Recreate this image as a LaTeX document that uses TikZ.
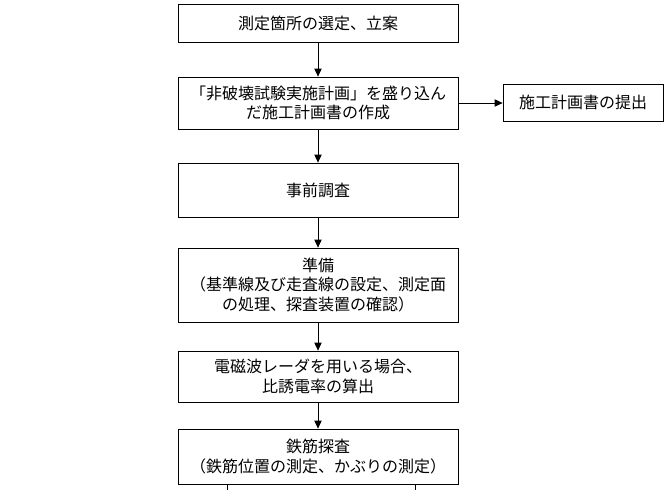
\documentclass[tikz,border=0pt]{standalone}
\usepackage{fontspec}
\setmainfont{Noto Sans CJK JP}
\usetikzlibrary{arrows.meta}
\begin{document}
\begin{tikzpicture}[x=0.75pt,y=-0.75pt,
  box/.style={draw, line width=0.6pt, rectangle, minimum width=210pt, align=center, inner sep=0pt,
    font=\fontsize{12pt}{14.8pt}\selectfont},
  flow/.style={line width=0.6pt, -{Triangle[length=6pt,width=5.5pt]}},
  plain/.style={line width=0.6pt}]
\useasboundingbox (0,0) rectangle (668,490);
\node[box, minimum height=28.5pt] (b1) at (318,23) {測定箇所の選定、立案};
\node[box, minimum height=39pt] (b2) at (318,103) {「非破壊試験実施計画」を盛り込ん\\だ施工計画書の作成};
\node[box, minimum width=120pt, minimum height=27.75pt] (side) at (583,102.5) {施工計画書の提出};
\node[box, minimum height=40.5pt] (b3) at (318,190) {事前調査};
\node[box, minimum height=55.5pt] (b4) at (318,285) {準備\\（基準線及び走査線の設定、測定面\\の処理、探査装置の確認）};
\node[box, minimum height=38.25pt] (b5) at (318,376.5) {電磁波レーダを用いる場合、\\比誘電率の算出};
\node[box, minimum height=41.25pt] (b6) at (318,456.5) {鉄筋探査\\（鉄筋位置の測定、かぶりの測定）};
\coordinate (e1) at (227,490);
\coordinate (e2) at (415,490);
\draw[flow] (b1) -- (b2);
\draw[flow] (b2) -- (b3);
\draw[flow] (b3) -- (b4);
\draw[flow] (b4) -- (b5);
\draw[flow] (b5) -- (b6);
\draw[flow] (b2.east) -- (b2.east -| side.west);
\draw[plain] (e1 |- b6.south) -- (e1);
\draw[plain] (e2 |- b6.south) -- (e2);
\end{tikzpicture}
\end{document}
